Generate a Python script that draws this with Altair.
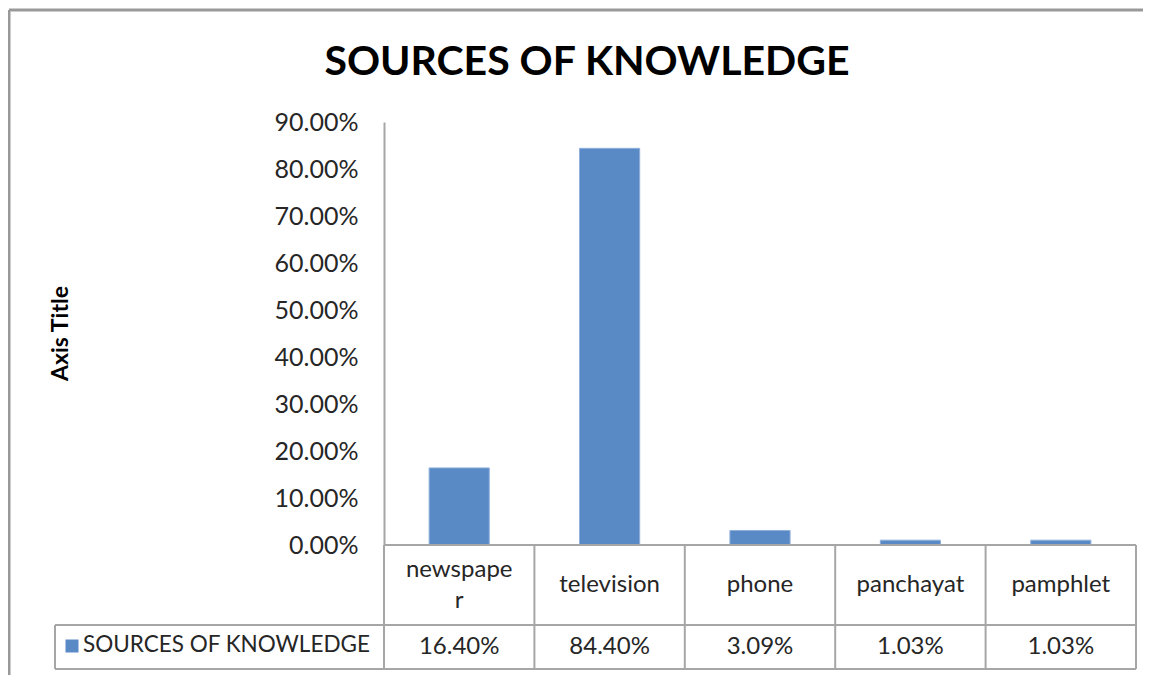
import altair as alt
import pandas as pd

categories = ["newspaper", "television", "phone", "panchayat", "pamphlet"]
cat_labels = ["newspape\nr", "television", "phone", "panchayat", "pamphlet"]
values = [0.164, 0.844, 0.0309, 0.0103, 0.0103]
series_name = "SOURCES OF KNOWLEDGE"
chart_title = "SOURCES OF KNOWLEDGE"
y_ticks = [0, 0.1, 0.2, 0.3, 0.4, 0.5, 0.6, 0.7, 0.8, 0.9]

W, H = 752, 423
FONT = "Lato"
GRID = "#a6a6a6"
BAR = "#5a8ac6"
TXT = "#262626"

df = pd.DataFrame({"cat": categories, "label": cat_labels, "value": values})
edges = pd.DataFrame({"edge": list(range(len(categories) + 1))})

xband = alt.X("cat:N", sort=categories, axis=None,
              scale=alt.Scale(paddingInner=0.6, paddingOuter=0.3))
yscale = alt.Scale(domain=[0, 0.9], nice=False)

bars = alt.Chart(df).mark_bar(color=BAR, stroke="#8fb0dc", strokeWidth=1).encode(
    x=xband,
    y=alt.Y("value:Q", scale=yscale,
            axis=alt.Axis(values=y_ticks, format=".2%", grid=False, ticks=False,
                          labelFont=FONT, labelFontSize=25, labelColor=TXT,
                          labelPadding=26, domainColor=GRID, domainWidth=2,
                          title="Axis Title", titleFont=FONT, titleFontSize=23,
                          titleFontWeight="bold", titleColor="#000000",
                          titleX=-324, titleY=211, titleAngle=-90,
                          titleAlign="center", titleBaseline="middle")),
)

LINE_H = 31
cat_text = alt.Chart(df).transform_calculate(
    nlines="length(split(datum.label, '\\n'))",
    ypix=f"463 - (datum.nlines - 1) * {LINE_H / 2}",
).mark_text(font=FONT, fontSize=24, color=TXT, lineBreak="\n", lineHeight=LINE_H,
            baseline="middle", align="center").encode(
    x=xband, y=alt.Y("ypix:Q", scale=None), text="label:N"
)

val_text = alt.Chart(df).mark_text(font=FONT, fontSize=24, color=TXT,
                                   baseline="middle", align="center").encode(
    x=xband, y=alt.value(525), text=alt.Text("value:Q", format=".2%")
)

xedge = alt.X("edge:Q", scale=alt.Scale(domain=[0, len(categories)], nice=False), axis=None)

vlines = alt.Chart(edges).mark_rule(color=GRID, strokeWidth=2).encode(
    x=xedge, y=alt.value(H), y2=alt.value(547)
)

base_line = alt.Chart(edges).mark_rule(color=GRID, strokeWidth=2).encode(
    x=alt.value(0), x2=alt.value(W), y=alt.value(H)
)
row_lines = alt.Chart(pd.DataFrame({"yy": [503, 547]})).mark_rule(color=GRID, strokeWidth=2).encode(
    x=alt.value(-329), x2=alt.value(W), y=alt.Y("yy:Q", scale=None)
)
legend_vline = alt.Chart(edges).mark_rule(color=GRID, strokeWidth=2).encode(
    x=alt.value(-329), y=alt.value(503), y2=alt.value(547)
)

legend_sq = alt.Chart(df.head(1)).mark_square(color=BAR, size=169, opacity=1).encode(
    x=alt.value(-312), y=alt.value(524)
)
legend_txt = alt.Chart(df.head(1)).mark_text(font=FONT, fontSize=22.5, color=TXT,
                                             align="left", baseline="middle").encode(
    x=alt.value(-301), y=alt.value(523), text=alt.value(series_name)
)

title_txt = alt.Chart(df.head(1)).mark_text(font=FONT, fontSize=41, fontWeight="bold",
                                            color="#000000", align="center",
                                            baseline="middle").encode(
    x=alt.value(203), y=alt.value(-59), text=alt.value(chart_title)
)

border_top = alt.Chart(df.head(1)).mark_rule(color="#999999", strokeWidth=3).encode(
    x=alt.value(-375), x2=alt.value(800), y=alt.value(-112)
)
border_left = alt.Chart(df.head(1)).mark_rule(color="#999999", strokeWidth=3).encode(
    x=alt.value(-375), y=alt.value(-112), y2=alt.value(600)
)

chart = alt.layer(
    border_top, border_left, bars, base_line, vlines, row_lines, legend_vline,
    cat_text, val_text, legend_sq, legend_txt, title_txt
).resolve_scale(x="independent").properties(
    width=W, height=H,
    autosize=alt.AutoSizeParams(type="none"),
    padding={"left": 376, "top": 114, "right": 7, "bottom": 130},
).configure_view(stroke=None)

chart.save("out.html", embed_options={"renderer": "svg", "actions": False})
